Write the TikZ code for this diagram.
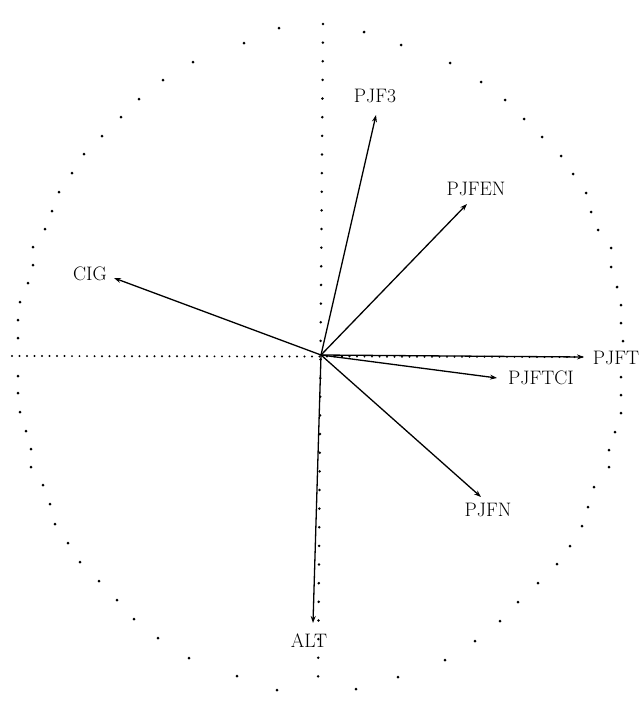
\documentclass[tikz,border=0pt]{standalone}
\usetikzlibrary{arrows.meta}

\begin{document}
\begin{tikzpicture}[x=1pt, y=-1pt,
    lbl/.style={inner sep=0pt, font=\fontsize{19.5}{21}\selectfont},
    vec/.style={line width=1.3pt, -{Stealth[length=7pt, width=5pt]}},
    hdots/.style={line width=2.2pt, line cap=round, dash pattern=on 0pt off 7.5pt},
    vdots/.style={line width=2.8pt, line cap=round, dash pattern=on 0pt off 18.64pt}]
  \useasboundingbox (0,0) rectangle (643,702);

  % the unit circle, one dot per printer row
  \foreach \x/\y in {279/28, 244/43, 193/62, 163/80, 139/99, 121/117, 102/136, 84/154,
      72/173, 59/192, 52/211, 45/229, 33/247, 33/265, 28/283, 20/302, 18/320, 18/338,
      18/376, 18/393, 20/412, 26/431, 31/449, 31/467, 43/485, 50/504, 55/524, 68/543,
      80/562, 99/581, 117/600, 134/619, 158/638, 189/658, 237/676, 277/690,
      364/32, 401/45, 450/63, 481/82, 505/100, 524/119, 542/137, 561/156, 573/174,
      586/193, 591/212, 598/230, 611/248, 611/267, 617/287, 621/305, 621/323, 623/341,
      621/377, 621/395, 621/413, 615/432, 609/450, 609/467, 594/487, 588/507, 582/526,
      570/546, 557/564, 538/583, 518/602, 500/621, 475/641, 445/660, 398/677, 356/689}
    \fill (\x,\y) circle (1.5);

  % axes
  \coordinate (o) at (321,355);
  \coordinate (axleft) at (12,356);
  \coordinate (axtop) at (323,24);
  \coordinate (axbottom) at (318,695);

  % arrow tips
  \coordinate (tipf3) at (376,115);
  \coordinate (tipfen) at (467,204);
  \coordinate (tipcig) at (114,278);
  \coordinate (tipft) at (584,357);
  \coordinate (tipftci) at (497,378);
  \coordinate (tipfn) at (481,497);
  \coordinate (tipalt) at (313,623);

  \draw[hdots] (axleft) -- (tipft);
  \draw[vdots] (axtop) -- (axbottom);

  \draw[vec] (o) -- (tipf3);
  \draw[vec] (o) -- (tipfen);
  \draw[vec] (o) -- (tipcig);
  \draw[vec] (o) -- (tipft);
  \draw[vec] (o) -- (tipftci);
  \draw[vec] (o) -- (tipfn);
  \draw[vec] (o) -- (tipalt);

  \node[lbl] (pjf3) at (375,96) {PJF3};
  \node[lbl] (pjfen) at (476,189) {PJFEN};
  \node[lbl] (cig) at (90,274) {CIG};
  \node[lbl] (pjft) at (616,358) {PJFT};
  \node[lbl] (pjftci) at (541,378) {PJFTCI};
  \node[lbl] (pjfn) at (488,510) {PJFN};
  \node[lbl] (alt) at (309,641) {ALT};
\end{tikzpicture}
\end{document}
